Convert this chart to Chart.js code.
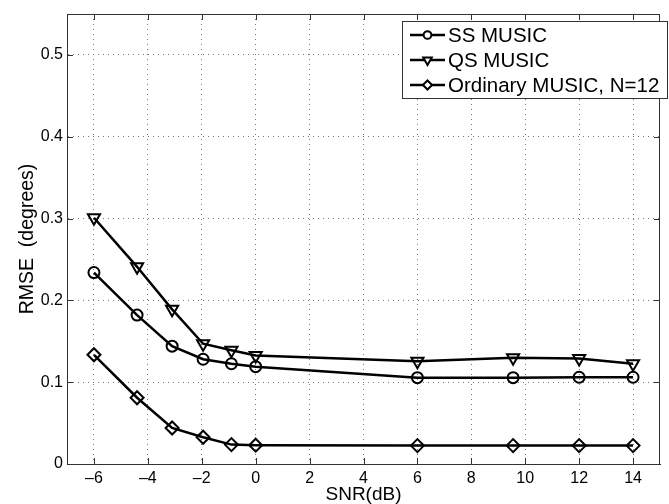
<!DOCTYPE html>
<html>
<head>
<meta charset="utf-8">
<script src="https://cdn.jsdelivr.net/npm/chart.js@4"></script>
<style>
  html, body { margin: 0; padding: 0; background: #fff; }
  #wrap { width: 669px; height: 504px; }
</style>
</head>
<body>
<div id="wrap"><canvas id="myChart" width="669" height="504"></canvas></div>
<script>
// SNR values (dB) where the runs were made
const snr = [-6, -4.4, -3.1, -1.95, -0.9, 0, 6, 9.55, 12, 14];
const ssMusic = [0.234, 0.182, 0.144, 0.128, 0.1225, 0.119, 0.1055, 0.1055, 0.106, 0.106];
const qsMusic = [0.301, 0.241, 0.189, 0.147, 0.139, 0.1325, 0.1255, 0.130, 0.129, 0.1225];
const ordMusic = [0.1335, 0.081, 0.044, 0.0327, 0.0237, 0.023, 0.0225, 0.0225, 0.0225, 0.0225];
const xTicks = [-6, -4, -2, 0, 2, 4, 6, 8, 10, 12, 14];
const yTicks = [0, 0.1, 0.2, 0.3, 0.4, 0.5];
const seriesNames = ['SS MUSIC', 'QS MUSIC', 'Ordinary MUSIC, N=12'];

const FONT = "'Liberation Sans', Arial, Helvetica, sans-serif";

const toPoints = (ys) => snr.map((x, i) => ({x: x, y: ys[i]}));

const markers = [
  {pointStyle: 'circle', radius: 5.5, rotation: 0},
  {pointStyle: 'triangle', radius: 7, rotation: 180},
  {pointStyle: 'rectRot', radius: 6.5, rotation: 0}
];

function makeSet(label, ys, m) {
  return {
    label: label,
    data: toPoints(ys),
    borderColor: '#000',
    borderWidth: 2.5,
    backgroundColor: '#fff',
    pointStyle: m.pointStyle,
    pointRadius: m.radius,
    pointRotation: m.rotation,
    pointBorderWidth: 2,
    pointBorderColor: '#000',
    pointBackgroundColor: 'rgba(255,255,255,0)',
    tension: 0,
    fill: false
  };
}

// box round the axes, inner tick marks, and the matlab style legend
const matlabFrame = {
  id: 'matlabFrame',
  afterDraw(chart) {
    const ctx = chart.ctx;
    const a = chart.chartArea;
    const xs = chart.scales.x, ys = chart.scales.y;
    ctx.save();
    ctx.setLineDash([]);
    ctx.strokeStyle = '#333';
    ctx.lineWidth = 1;
    ctx.strokeRect(a.left + 0.5, a.top + 0.5, a.right - a.left - 1, a.bottom - a.top);
    ctx.beginPath();
    xTicks.forEach(v => {
      const px = Math.round(xs.getPixelForValue(v)) + 0.5;
      ctx.moveTo(px, a.bottom); ctx.lineTo(px, a.bottom - 6);
      ctx.moveTo(px, a.top); ctx.lineTo(px, a.top + 6);
    });
    yTicks.forEach(v => {
      const py = Math.round(ys.getPixelForValue(v)) + 0.5;
      ctx.moveTo(a.left, py); ctx.lineTo(a.left + 6, py);
      ctx.moveTo(a.right, py); ctx.lineTo(a.right - 6, py);
    });
    ctx.stroke();

    // legend
    const bx = 402, by = 21, bw = 265, bh = 77;
    ctx.fillStyle = '#fff';
    ctx.fillRect(bx, by, bw, bh);
    ctx.strokeStyle = '#333';
    ctx.strokeRect(bx + 0.5, by + 0.5, bw, bh);
    ctx.font = '20.5px ' + FONT;
    ctx.textBaseline = 'middle';
    ctx.textAlign = 'left';
    seriesNames.forEach((name, i) => {
      const y = by + 14 + i * 25;
      ctx.strokeStyle = '#000';
      ctx.lineWidth = 2.5;
      ctx.beginPath();
      ctx.moveTo(410, y); ctx.lineTo(445, y);
      ctx.stroke();
      ctx.lineWidth = 2;
      ctx.fillStyle = '#fff';
      const m = markers[i];
      Chart.helpers.drawPoint(ctx, {pointStyle: m.pointStyle, radius: m.radius * 0.7, rotation: m.rotation, borderWidth: 2}, 427.5, y);
      ctx.fillStyle = '#000';
      ctx.fillText(name, 448, y + 1);
    });
    ctx.restore();
  }
};

const ctx = document.getElementById('myChart').getContext('2d');
const myChart = new Chart(ctx, {
  type: 'line',
  data: {
    datasets: [
      makeSet(seriesNames[0], ssMusic, markers[0]),
      makeSet(seriesNames[1], qsMusic, markers[1]),
      makeSet(seriesNames[2], ordMusic, markers[2])
    ]
  },
  options: {
    responsive: false,
    animation: false,
    layout: {padding: {top: 14, right: 1, left: 0, bottom: 0}},
    plugins: {legend: {display: false}, tooltip: {enabled: false}},
    scales: {
      x: {
        type: 'linear',
        min: -7,
        max: 15,
        afterFit: (s) => { s.height = 40; },
        afterBuildTicks: (s) => { s.ticks = xTicks.map(v => ({value: v})); },
        grid: {color: '#777', drawTicks: false, lineWidth: 1},
        border: {display: true, color: '#333', dash: [1, 4]},
        ticks: {
          color: '#000',
          padding: 5,
          maxRotation: 0,
          font: {family: FONT, size: 16},
          callback: (v) => (v < 0 ? '\u2013' + Math.abs(v) : String(v))
        },
        title: {display: true, text: 'SNR(dB)', color: '#000', padding: 0,
          font: {family: FONT, size: 19, lineHeight: 1}}
      },
      y: {
        type: 'linear',
        min: 0,
        max: 0.55,
        afterFit: (s) => { s.width = 67; },
        afterBuildTicks: (s) => { s.ticks = yTicks.map(v => ({value: v})); },
        grid: {color: '#777', drawTicks: false, lineWidth: 1},
        border: {display: true, color: '#333', dash: [1, 4]},
        ticks: {
          color: '#000',
          padding: 4,
          font: {family: FONT, size: 16},
          callback: (v) => (v === 0 ? '0' : v.toFixed(1))
        },
        title: {display: true, text: 'RMSE  (degrees)', color: '#000', padding: {top: 18},
          font: {family: FONT, size: 19.5, lineHeight: 1}}
      }
    }
  },
  plugins: [matlabFrame]
});
</script>
</body>
</html>
